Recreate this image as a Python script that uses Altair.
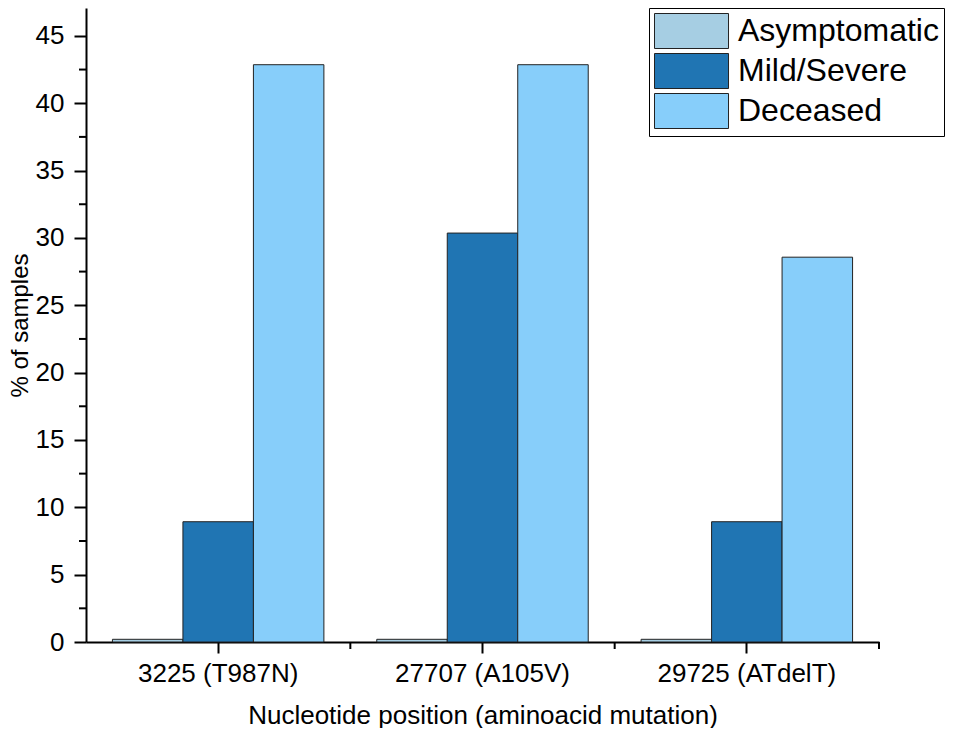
import altair as alt
import pandas as pd

categories = ["3225 (T987N)", "27707 (A105V)", "29725 (ATdelT)"]
groups = ["Asymptomatic", "Mild/Severe", "Deceased"]
asymptomatic = [0.2, 0.2, 0.2]
mild_severe = [8.93, 30.36, 8.93]
deceased = [42.86, 42.86, 28.57]
colors = ["#a6cee3", "#2075b3", "#87cefa"]
y_major_ticks = [0, 5, 10, 15, 20, 25, 30, 35, 40, 45]
y_minor_ticks = [2.5, 7.5, 12.5, 17.5, 22.5, 27.5, 32.5, 37.5, 42.5]
x_boundaries = [1, 2, 3]

FONT = "Liberation Sans"
Y_MAX = 47.07

rows = []
for i, c in enumerate(categories):
    for g, vals in zip(groups, [asymptomatic, mild_severe, deceased]):
        rows.append({"category": c, "group": g, "value": vals[i]})
df = pd.DataFrame(rows)

yscale = alt.Scale(domain=[0, Y_MAX], nice=False, zero=True)

bars = alt.Chart(df).mark_bar(stroke="#222222", strokeWidth=1).encode(
    x=alt.X(
        "category:N",
        sort=categories,
        scale=alt.Scale(paddingInner=0.2, paddingOuter=0.1),
        axis=alt.Axis(
            title="Nucleotide position (aminoacid mutation)",
            labelAngle=0,
            labelFont=FONT,
            labelFontSize=26,
            labelColor="black",
            labelPadding=7,
            titleFont=FONT,
            titleFontSize=26,
            titleFontWeight="normal",
            titleColor="black",
            titlePadding=16,
            domainColor="black",
            domainWidth=2,
            tickColor="black",
            tickWidth=2,
            tickSize=11,
            grid=False,
        ),
    ),
    xOffset=alt.XOffset("group:N", sort=groups, scale=alt.Scale(paddingInner=0, paddingOuter=0)),
    y=alt.Y(
        "value:Q",
        scale=yscale,
        axis=alt.Axis(
            title="% of samples",
            values=y_major_ticks,
            labelFont=FONT,
            labelFontSize=26,
            labelColor="black",
            labelPadding=10,
            titleFont=FONT,
            titleFontSize=24,
            titleFontWeight="normal",
            titleColor="black",
            titlePadding=3,
            domainColor="black",
            domainWidth=2,
            tickColor="black",
            tickWidth=2,
            tickSize=12,
            grid=False,
        ),
    ),
    color=alt.Color(
        "group:N",
        sort=groups,
        scale=alt.Scale(domain=groups, range=colors),
        legend=alt.Legend(
            title=None,
            orient="none",
            legendX=563,
            legendY=0,
            symbolType="M-1,-1H3.23V1H-1Z",
            symbolSize=1225,
            symbolStrokeColor="#222222",
            symbolStrokeWidth=1,
            symbolOpacity=1,
            labelFont=FONT,
            labelFontSize=32,
            labelColor="black",
            labelOffset=48,
            labelLimit=400,
            rowPadding=0,
            padding=5,
            strokeColor="black",
            fillColor="white",
        ),
    ),
)

yminor = alt.Chart(pd.DataFrame({"v": y_minor_ticks})).mark_rule(
    color="black", strokeWidth=2
).encode(
    y=alt.Y("v:Q", scale=yscale),
    x=alt.value(-7),
    x2=alt.value(0),
)

xminor = alt.Chart(pd.DataFrame({"b": x_boundaries})).mark_rule(
    color="black", strokeWidth=2
).encode(
    x=alt.X("b:Q", scale=alt.Scale(domain=[0, 3], nice=False, zero=True), axis=None),
    y=alt.value(634),
    y2=alt.value(641),
)

chart = (
    alt.layer(bars, yminor, xminor)
    .resolve_scale(x="independent")
    .properties(
        width=793,
        height=634,
        autosize=alt.AutoSizeParams(type="none"),
        padding={"left": 78, "top": 0, "right": 69, "bottom": 86},
        background="white",
    )
    .configure_view(stroke="transparent", strokeWidth=0)
)

chart.save("out.html", embed_options={"renderer": "svg", "actions": False})
